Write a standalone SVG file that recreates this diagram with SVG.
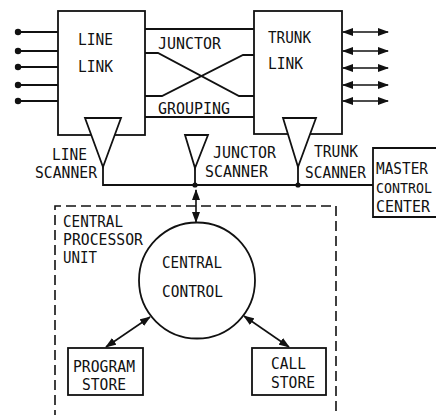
<svg xmlns="http://www.w3.org/2000/svg" width="436" height="415" viewBox="0 0 436 415">
<style>
text{font-family:"DejaVu Sans Mono","Liberation Mono",monospace;font-size:15px;fill:#111}
.s{fill:none;stroke:#111;stroke-width:1.8}
.b{fill:#fff;stroke:#111;stroke-width:1.8}
.d{fill:none;stroke:#111;stroke-width:1.6;stroke-dasharray:10,5}
.a{fill:none;stroke:#111;stroke-width:1.6;marker-start:url(#ah);marker-end:url(#ah)}
.dot{fill:#111}
</style>
<defs>
<marker id="ah" markerUnits="userSpaceOnUse" markerWidth="11" markerHeight="8" refX="10" refY="4" orient="auto-start-reverse">
<path d="M0,0 L11,4 L0,8 z" fill="#111"/>
</marker>
</defs>
<rect width="436" height="415" fill="#fff"/>

<g id="line-link">
<rect class="b" x="58" y="11" width="87" height="124"/>
<text x="78" y="45" textLength="35" lengthAdjust="spacingAndGlyphs">LINE</text>
<text x="78" y="72" textLength="35" lengthAdjust="spacingAndGlyphs">LINK</text>
</g>
<g id="trunk-link">
<rect class="b" x="254" y="11" width="88" height="123"/>
<text x="268" y="43" textLength="43" lengthAdjust="spacingAndGlyphs">TRUNK</text>
<text x="268" y="69" textLength="35" lengthAdjust="spacingAndGlyphs">LINK</text>
</g>
<g id="junctor-grouping">
<text x="158" y="49" textLength="63" lengthAdjust="spacingAndGlyphs">JUNCTOR</text>
<text x="158" y="114" textLength="72" lengthAdjust="spacingAndGlyphs">GROUPING</text>
</g>

<g id="connectors">
<path class="s" d="M18,32 H58 M18,51 H58 M18,67 H58 M18,85 H58 M18,101 H58"/>
<circle class="dot" cx="18" cy="32" r="3.2"/>
<circle class="dot" cx="18" cy="51" r="3.2"/>
<circle class="dot" cx="18" cy="67" r="3.2"/>
<circle class="dot" cx="18" cy="85" r="3.2"/>
<circle class="dot" cx="18" cy="101" r="3.2"/>
<line class="a" x1="343" y1="32" x2="388" y2="32"/>
<line class="a" x1="343" y1="51" x2="388" y2="51"/>
<line class="a" x1="343" y1="68" x2="388" y2="68"/>
<line class="a" x1="343" y1="85" x2="388" y2="85"/>
<line class="a" x1="343" y1="101" x2="388" y2="101"/>
<path class="s" d="M145,29 H254 M145,117 H254"/>
<path class="s" d="M145,53 H158 L239,96 H254"/>
<path class="s" d="M145,96 H162 L243,55 H254"/>
<path class="s" d="M103,167 V185 H373 M195,168 V185 M298,167 V185"/>
<circle class="dot" cx="195" cy="185" r="2.6"/>
<circle class="dot" cx="298" cy="185" r="2.6"/>
<line class="a" x1="196" y1="190" x2="196" y2="222"/>
<line class="a" x1="150" y1="317" x2="106" y2="347"/>
<line class="a" x1="244" y1="316" x2="289" y2="347"/>
</g>

<g id="line-scanner">
<path class="b" d="M85,118 H121 L103,167 Z"/>
<text x="52" y="160" textLength="35" lengthAdjust="spacingAndGlyphs">LINE</text>
<text x="35" y="178" textLength="62" lengthAdjust="spacingAndGlyphs">SCANNER</text>
</g>
<g id="junctor-scanner">
<path class="b" d="M185,135 H208 L195,168 Z"/>
<text x="213" y="158" textLength="63" lengthAdjust="spacingAndGlyphs">JUNCTOR</text>
<text x="205" y="177" textLength="63" lengthAdjust="spacingAndGlyphs">SCANNER</text>
</g>
<g id="trunk-scanner">
<path class="b" d="M283,118 H316 L298,167 Z"/>
<text x="314" y="157" textLength="44" lengthAdjust="spacingAndGlyphs">TRUNK</text>
<text x="305" y="178" textLength="61" lengthAdjust="spacingAndGlyphs">SCANNER</text>
</g>
<g id="master-control-center">
<path class="s" d="M440,148 H373 V217 H440"/>
<text x="376" y="174" textLength="52" lengthAdjust="spacingAndGlyphs">MASTER</text>
<text x="376" y="193" textLength="56" lengthAdjust="spacingAndGlyphs" style="font-size:14px">CONTROL</text>
<text x="376" y="212" textLength="54" lengthAdjust="spacingAndGlyphs">CENTER</text>
</g>
<g id="central-processor-unit">
<path class="d" d="M55,420 V206 H336 V420"/>
<text x="63" y="227" textLength="60" lengthAdjust="spacingAndGlyphs">CENTRAL</text>
<text x="63" y="245" textLength="80" lengthAdjust="spacingAndGlyphs">PROCESSOR</text>
<text x="63" y="263" textLength="34" lengthAdjust="spacingAndGlyphs">UNIT</text>
</g>
<g id="central-control">
<circle class="s" cx="197" cy="280.5" r="58"/>
<text x="162" y="268" textLength="60" lengthAdjust="spacingAndGlyphs">CENTRAL</text>
<text x="162" y="297" textLength="61" lengthAdjust="spacingAndGlyphs">CONTROL</text>
</g>
<g id="program-store">
<rect class="b" x="68" y="348" width="75" height="47"/>
<text x="73" y="372" textLength="62" lengthAdjust="spacingAndGlyphs">PROGRAM</text>
<text x="82" y="390" textLength="44" lengthAdjust="spacingAndGlyphs">STORE</text>
</g>
<g id="call-store">
<rect class="b" x="252" y="348" width="74" height="47"/>
<text x="271" y="369" textLength="35" lengthAdjust="spacingAndGlyphs">CALL</text>
<text x="271" y="388" textLength="44" lengthAdjust="spacingAndGlyphs">STORE</text>
</g>
</svg>
